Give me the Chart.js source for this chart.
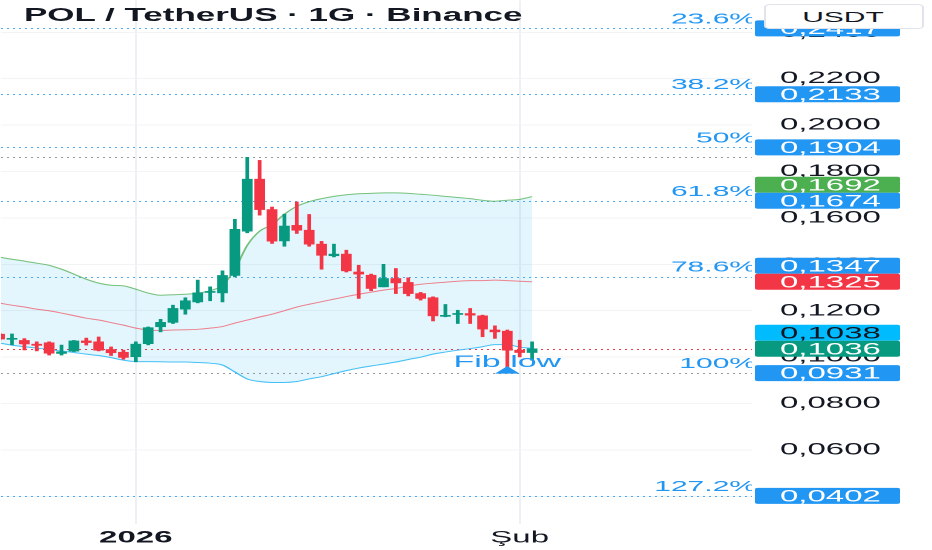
<!DOCTYPE html>
<html lang="tr">
<head>
<meta charset="UTF-8">
<title>POL / TetherUS · 1G · Binance</title>
<script src="https://cdn.jsdelivr.net/npm/chart.js"></script>
<style>
  html, body { margin: 0; padding: 0; background: #fff; overflow: hidden; }
  body { width: 932px; height: 550px; }
  /* the reference screenshot is stretched sideways, so the whole chart is drawn narrow and widened */
  #wrap {
    position: absolute; left: 0; top: 0;
    width: 466px; height: 550px;
    transform: scaleX(2); transform-origin: 0 0;
  }
  #title {
    position: absolute; left: 12px; top: 5px;
    font: bold 17.5px "Liberation Sans", Arial, sans-serif;
    color: #131722; white-space: nowrap; line-height: 20px;
  }
  #usdt {
    position: absolute; left: 381.5px; top: 4px; width: 78px; height: 23px;
    border: 1px solid #e0e3eb; border-radius: 3px; background: #fff;
    font: 15px "Liberation Sans", Arial, sans-serif; color: #131722;
    text-align: center; line-height: 23px;
  }
</style>
</head>
<body>
<div id="wrap">
  <canvas id="chart"></canvas>
  <div id="title">POL / TetherUS · 1G · Binance</div>
  <div id="usdt">USDT</div>
</div>
<script>
  const FONT = '"Liberation Sans", Arial, sans-serif';

  // day index, 0 = 1 Jan 2026
  const candleDays = [-11, -10, -9, -8, -7, -6, -5, -4, -3, -2, -1, 0, 1, 2, 3, 4, 5, 6, 7, 8, 9, 10,
    11, 12, 13, 14, 15, 16, 17, 18, 19, 20, 21, 22, 23, 24, 25, 26, 27, 28, 29, 30, 31, 32];

  const opens = [0.1099, 0.1077, 0.1072, 0.1056, 0.1062, 0.1016, 0.1026, 0.1070, 0.1066, 0.1033, 0.1021,
    0.1002, 0.1058, 0.1131, 0.1150, 0.1207, 0.1238, 0.1279, 0.1277, 0.1352, 0.1543, 0.1767, 0.1636,
    0.1501, 0.1568, 0.1547, 0.1487, 0.1437, 0.1444, 0.1367, 0.1353, 0.1303, 0.1339, 0.1322, 0.1274,
    0.1256, 0.1176, 0.1184, 0.1188, 0.1178, 0.1117, 0.1112, 0.1030, 0.1020];
  const highs = [0.1103, 0.1100, 0.1080, 0.1066, 0.1066, 0.1052, 0.1072, 0.1082, 0.1087, 0.1044, 0.1030,
    0.1066, 0.1130, 0.1163, 0.1224, 0.1256, 0.1332, 0.1303, 0.1372, 0.1594, 0.1861, 0.1848, 0.1647,
    0.1616, 0.1669, 0.1615, 0.1499, 0.1487, 0.1461, 0.1396, 0.1358, 0.1400, 0.1382, 0.1342, 0.1279,
    0.1260, 0.1227, 0.1202, 0.1210, 0.1181, 0.1135, 0.1117, 0.1073, 0.1066];
  const lows = [0.1074, 0.1053, 0.1031, 0.1027, 0.1009, 0.1009, 0.1024, 0.1052, 0.1027, 0.1007, 0.0991,
    0.0980, 0.1053, 0.1109, 0.1145, 0.1185, 0.1234, 0.1243, 0.1238, 0.1346, 0.1536, 0.1612, 0.1490,
    0.1478, 0.1533, 0.1478, 0.1379, 0.1432, 0.1367, 0.1253, 0.1286, 0.1303, 0.1274, 0.1264, 0.1246,
    0.1156, 0.1174, 0.1145, 0.1145, 0.1088, 0.1081, 0.0931, 0.1001, 0.0987];
  const closes = [0.1078, 0.1079, 0.1057, 0.1051, 0.1017, 0.1023, 0.1070, 0.1063, 0.1030, 0.1019, 0.0999,
    0.1056, 0.1127, 0.1150, 0.1210, 0.1243, 0.1277, 0.1281, 0.1352, 0.1551, 0.1767, 0.1636, 0.1500,
    0.1565, 0.1547, 0.1487, 0.1439, 0.1444, 0.1372, 0.1358, 0.1296, 0.1339, 0.1320, 0.1274, 0.1253,
    0.1178, 0.1178, 0.1187, 0.1181, 0.1121, 0.1109, 0.1030, 0.1020, 0.1036];

  // Bollinger bands
  const bbUpper = [0.1431, 0.1422, 0.1414, 0.1405, 0.1396, 0.1379, 0.1358, 0.1336, 0.1319, 0.1310, 0.1307,
    0.1293, 0.1276, 0.1267, 0.1269, 0.1271, 0.1276, 0.1286, 0.1310, 0.1379, 0.1482, 0.1543, 0.1571,
    0.1616, 0.1650, 0.1670, 0.1683, 0.1693, 0.1700, 0.1704, 0.1706, 0.1708, 0.1708, 0.1706, 0.1702,
    0.1698, 0.1693, 0.1688, 0.1683, 0.1676, 0.1672, 0.1676, 0.1680, 0.1692];
  const bbBasis = [0.1233, 0.1224, 0.1216, 0.1207, 0.1200, 0.1190, 0.1179, 0.1168, 0.1160, 0.1149, 0.1138,
    0.1125, 0.1117, 0.1115, 0.1117, 0.1118, 0.1120, 0.1125, 0.1132, 0.1147, 0.1160, 0.1173, 0.1185,
    0.1200, 0.1216, 0.1228, 0.1239, 0.1250, 0.1261, 0.1271, 0.1280, 0.1289, 0.1296, 0.1306, 0.1314,
    0.1319, 0.1323, 0.1327, 0.1330, 0.1330, 0.1332, 0.1330, 0.1327, 0.1325];
  const bbLower = [0.1061, 0.1052, 0.1045, 0.1039, 0.1033, 0.1026, 0.1020, 0.1013, 0.1007, 0.0998, 0.0987,
    0.0981, 0.0981, 0.0980, 0.0979, 0.0979, 0.0977, 0.0974, 0.0966, 0.0936, 0.0906, 0.0895, 0.0891,
    0.0891, 0.0895, 0.0906, 0.0916, 0.0929, 0.0942, 0.0953, 0.0962, 0.0970, 0.0979, 0.0990, 0.1000,
    0.1013, 0.1022, 0.1030, 0.1037, 0.1045, 0.1054, 0.1054, 0.1043, 0.1038];

  // Fibonacci drawing
  const fibLevels = ["23.6%", "38.2%", "50%", "61.8%", "78.6%", "100%", "127.2%"];
  const fibPrices = [0.2417, 0.2133, 0.1904, 0.1674, 0.1347, 0.0931, 0.0402];
  const swingHigh = 0.1861;
  const swingLow = 0.0931;
  const swingLowDay = 30;
  const lastPrice = 0.1036;

  // price scale tags
  const tagPrices = [0.2417, 0.2133, 0.1904, 0.1692, 0.1674, 0.1347, 0.1325, 0.1038, 0.1036, 0.0931, 0.0402];
  const tagColors = ["#2196f3", "#2196f3", "#2196f3", "#4caf50", "#2196f3", "#2196f3", "#f23645",
    "#00bcff", "#089981", "#2196f3", "#2196f3"];
  const tagTextColors = ["#fff", "#fff", "#fff", "#fff", "#fff", "#fff", "#fff", "#131722", "#fff", "#fff", "#fff"];

  // axis ticks
  const xTickValues = [0, 31];
  const xTickLabels = ["2026", "Şub"];
  const yTickValues = [0.04, 0.06, 0.08, 0.10, 0.12, 0.14, 0.16, 0.18, 0.20, 0.22, 0.24];

  const UP = "#089981", DOWN = "#f23645";
  const fmt = v => v.toFixed(4).replace(".", ",");

  const candleColors = candleDays.map((d, i) => closes[i] >= opens[i] ? UP : DOWN);
  const wickData = candleDays.map((d, i) => ({ x: d, y: [lows[i], highs[i]] }));
  const bodyData = candleDays.map((d, i) => ({ x: d, y: [Math.min(opens[i], closes[i]), Math.max(opens[i], closes[i])] }));
  const band = arr => candleDays.map((d, i) => ({ x: d, y: arr[i] }));

  const fibPlugin = {
    id: "fib",
    beforeDatasetsDraw(chart) {
      const { ctx, chartArea: a, scales: { y } } = chart;
      ctx.save();
      ctx.beginPath();
      ctx.rect(a.left, a.top, a.right - a.left, a.bottom - a.top);
      ctx.clip();
      ctx.lineWidth = 1;
      ctx.setLineDash([1, 2]);
      const hline = (p, color) => {
        const yy = Math.round(y.getPixelForValue(p)) + 0.5;
        ctx.strokeStyle = color;
        ctx.beginPath();
        ctx.moveTo(a.left, yy);
        ctx.lineTo(a.right, yy);
        ctx.stroke();
      };
      fibPrices.forEach(p => hline(p, "rgba(33,150,243,0.8)"));
      hline(swingHigh, "#9598a1");
      hline(swingLow, "#9598a1");
      hline(lastPrice, "#f23645");
      ctx.restore();
    },
    afterDatasetsDraw(chart) {
      const { ctx, chartArea: a, scales: { x, y } } = chart;
      ctx.save();
      ctx.beginPath();
      ctx.rect(a.left, a.top, a.right - a.left, a.bottom - a.top);
      ctx.clip();
      ctx.fillStyle = "#2196f3";
      ctx.font = "15px " + FONT;
      ctx.textAlign = "right";
      ctx.textBaseline = "alphabetic";
      fibLevels.forEach((lab, i) => {
        ctx.fillText(lab, a.right + 2, y.getPixelForValue(fibPrices[i]) - 5);
      });
      // swing low marker
      const lx = x.getPixelForValue(swingLowDay);
      const ly = y.getPixelForValue(swingLow);
      ctx.beginPath();
      ctx.moveTo(lx, ly - 7);
      ctx.lineTo(lx + 6.2, ly + 0.5);
      ctx.lineTo(lx - 6.2, ly + 0.5);
      ctx.closePath();
      ctx.fill();
      ctx.font = "17px " + FONT;
      ctx.textAlign = "center";
      ctx.textBaseline = "middle";
      ctx.fillText("Fib low", lx, ly - 11);
      ctx.restore();
    },
    afterDraw(chart) {
      const { ctx, chartArea: a, scales: { y } } = chart;
      const h = 16;
      // place tags, pushing the upper one up when two collide
      const cy = tagPrices.map(p => y.getPixelForValue(p));
      for (let i = cy.length - 2; i >= 0; i--) {
        if (cy[i] + h / 2 > cy[i + 1] - h / 2) cy[i] = cy[i + 1] - h;
      }
      ctx.save();
      ctx.font = "16.5px " + FONT;
      ctx.textAlign = "left";
      ctx.textBaseline = "middle";
      tagPrices.forEach((p, i) => {
        ctx.fillStyle = tagColors[i];
        ctx.beginPath();
        ctx.roundRect(a.right + 1.5, cy[i] - h / 2, 72.5, h, 1.5);
        ctx.fill();
        ctx.fillStyle = tagTextColors[i];
        ctx.fillText(fmt(p), a.right + 14, cy[i] + 1);
      });
      ctx.restore();
    }
  };

  new Chart(document.getElementById("chart"), {
    type: "bar",
    data: {
      datasets: [
        {
          type: "line", label: "Upper", data: band(bbUpper), order: 3,
          borderColor: "rgba(76,175,80,0.75)", borderWidth: 1, pointRadius: 0,
          cubicInterpolationMode: "monotone", fill: 2, backgroundColor: "rgba(3,169,244,0.11)"
        },
        {
          type: "line", label: "Basis", data: band(bbBasis), order: 3,
          borderColor: "rgba(242,54,69,0.6)", borderWidth: 1, pointRadius: 0,
          cubicInterpolationMode: "monotone", fill: false
        },
        {
          type: "line", label: "Lower", data: band(bbLower), order: 3,
          borderColor: "#45c0f7", borderWidth: 1, pointRadius: 0,
          cubicInterpolationMode: "monotone", fill: false
        },
        {
          label: "Wick", data: wickData, order: 1, grouped: false,
          backgroundColor: candleColors, barThickness: 1.2
        },
        {
          label: "Body", data: bodyData, order: 0, grouped: false,
          backgroundColor: candleColors, barThickness: 4.7, minBarLength: 1
        }
      ]
    },
    options: {
      responsive: true,
      maintainAspectRatio: false,
      animation: false,
      devicePixelRatio: 2,
      layout: { padding: 0 },
      events: [],
      plugins: {
        legend: { display: false },
        tooltip: { enabled: false },
        filler: { drawTime: "beforeDatasetsDraw" }
      },
      scales: {
        x: {
          type: "linear",
          offset: false,
          min: -10.887,
          max: 49.758,
          afterBuildTicks: s => { s.ticks = xTickValues.map(v => ({ value: v })); },
          afterFit: s => { s.height = 26; s.paddingLeft = 0; s.paddingRight = 0; },
          grid: { color: "#eef0f3", drawTicks: false, offset: false },
          border: { display: false },
          ticks: {
            autoSkip: false,
            maxRotation: 0,
            padding: 4,
            color: "#131722",
            font: c => ({ family: FONT, size: 16.5, weight: c.tick && c.tick.value === 0 ? "bold" : "normal" }),
            callback: v => xTickLabels[xTickValues.indexOf(v)]
          }
        },
        y: {
          type: "linear",
          position: "right",
          min: 0.0281,
          max: 0.2537,
          afterBuildTicks: s => { s.ticks = yTickValues.map(v => ({ value: v })); },
          afterFit: s => { s.width = 90; s.paddingTop = 0; s.paddingBottom = 0; },
          grid: { color: "#f2f3f5", drawTicks: false },
          border: { display: false },
          ticks: {
            padding: 14,
            color: "#131722",
            font: { family: FONT, size: 16.5 },
            callback: v => fmt(v)
          }
        }
      }
    },
    plugins: [fibPlugin]
  });
</script>
</body>
</html>
